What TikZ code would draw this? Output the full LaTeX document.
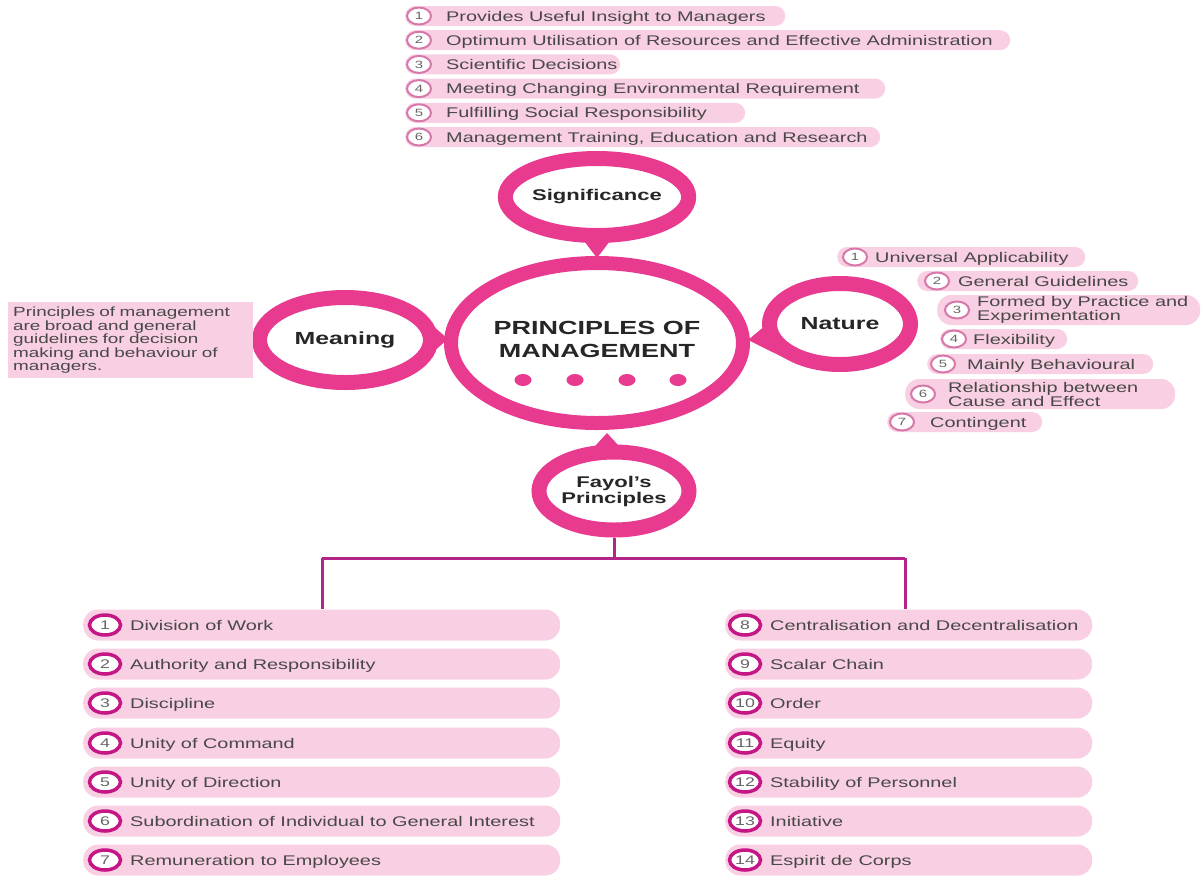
\documentclass[tikz,border=0pt]{standalone}
\usepackage{fontspec}
\setmainfont{Liberation Sans}[FakeStretch=1.42]
\usetikzlibrary{calc,shapes.geometric}

\definecolor{ringpink}{RGB}{232,58,143}
\definecolor{pillpink}{RGB}{249,207,227}
\definecolor{numring}{RGB}{214,120,170}
\definecolor{fayring}{RGB}{196,22,132}
\definecolor{branchcol}{RGB}{180,36,136}
\definecolor{txtgray}{RGB}{72,72,72}

\begin{document}
\begin{tikzpicture}[x=1pt, y=-1pt,
    bubble/.style={ellipse, draw=ringpink, line width=15pt, fill=white, inner sep=0pt, text=black!85},
    toppill/.style={rectangle, rounded corners=10pt, fill=pillpink, minimum height=20pt, anchor=west, inner sep=0pt},
    twopill/.style={rectangle, rounded corners=14pt, fill=pillpink, minimum height=30pt, anchor=west, inner sep=0pt},
    fayolpill/.style={rectangle, rounded corners=15pt, fill=pillpink, minimum height=31pt, anchor=west, inner sep=0pt},
    smallnum/.style={ellipse, draw=numring, line width=2pt, fill=white, minimum width=24pt, minimum height=17pt, inner sep=0pt, font=\fontsize{10.5}{10.5}\selectfont, text=black!60},
    fayolnum/.style={ellipse, draw=fayring, line width=3.5pt, fill=white, minimum width=31pt, minimum height=20pt, inner sep=0pt, font=\fontsize{12.5}{12.5}\selectfont, text=black!60},
    twotext/.style={anchor=west, inner sep=0pt, font=\fontsize{14}{14}\selectfont, text=txtgray, align=left},
    itemtext/.style={twotext, text height=10pt, text depth=0pt},
    dot/.style={ellipse, fill=ringpink, minimum width=17pt, minimum height=12pt, inner sep=0pt},
    branch/.style={draw=branchcol, line width=3pt}
]
    \useasboundingbox (0,0) rectangle (1204,876);

    % central bubble
    \node[bubble, line width=14pt, minimum width=292pt, minimum height=160pt] (main) at (597,343) {};
    \node[font=\bfseries\fontsize{19}{23}\selectfont, text=black!85, align=center] (title) at (597,339) {PRINCIPLES OF\\MANAGEMENT};
    \node[dot] (d1) at (523,380) {};
    \node[dot] (d2) at (575,380) {};
    \node[dot] (d3) at (627,380) {};
    \node[dot] (d4) at (678,380) {};

    % outer bubbles
    \node[bubble, minimum width=151pt, minimum height=77pt, font=\bfseries\fontsize{15.5}{16}\selectfont] (sig) at (597,197) {Significance};
    \node[bubble, minimum width=171pt, minimum height=85pt, font=\bfseries\fontsize{17.5}{18}\selectfont] (mean) at (345,340) {Meaning};
    \node[bubble, minimum width=141pt, minimum height=81pt, font=\bfseries\fontsize{17.5}{18}\selectfont] (nat) at (840,324) {Nature};
    \node[bubble, minimum width=150pt, minimum height=78pt, font=\bfseries\fontsize{15.5}{16}\selectfont, align=center] (fay) at (614,491) {Fayol’s\\Principles};

    % bubble tips
    \coordinate (sigtip) at (597,258);
    \coordinate (meantip) at (448,339);
    \coordinate (nattip) at (748,340);
    \coordinate (faytip) at (607,433);
    \fill[ringpink] ($(sig.south)+(-16,-6)$) -- (sigtip) -- ($(sig.south)+(16,-6)$) -- cycle;
    \fill[ringpink] ($(mean.east)+(-6,-15)$) -- (meantip) -- ($(mean.east)+(-6,13)$) -- cycle;
    \fill[ringpink] (nat.183) -- (nattip) -- (nat.215) -- cycle;
    \fill[ringpink] ($(fay.north)+(-23,6)$) -- (faytip) -- ($(fay.north)+(9,6)$) -- cycle;

    % meaning text
    \node[fill=pillpink, anchor=north west, minimum width=245pt, minimum height=76pt, text width=235pt, inner xsep=5pt, inner ysep=2pt, align=left, font=\fontsize{13.3}{13.5}\selectfont, text=txtgray] (mbox) at (8,302) {Principles of management\\are broad and general\\guidelines for decision\\making and behaviour of\\managers.};

    % significance list
    \node[toppill, minimum width=380pt] (s1) at (405,16) {};
    \node[smallnum] (s1n) at ($(s1.west)+(14,0)$) {1};
    \node[itemtext] (s1t) at ($(s1.west)+(41,0)$) {Provides Useful Insight to Managers};
    \node[toppill, minimum width=605pt] (s2) at (405,40.2) {};
    \node[smallnum] (s2n) at ($(s2.west)+(14,0)$) {2};
    \node[itemtext] (s2t) at ($(s2.west)+(41,0)$) {Optimum Utilisation of Resources and Effective Administration};
    \node[toppill, minimum width=215pt] (s3) at (405,64.4) {};
    \node[smallnum] (s3n) at ($(s3.west)+(14,0)$) {3};
    \node[itemtext] (s3t) at ($(s3.west)+(41,0)$) {Scientific Decisions};
    \node[toppill, minimum width=480pt] (s4) at (405,88.6) {};
    \node[smallnum] (s4n) at ($(s4.west)+(14,0)$) {4};
    \node[itemtext] (s4t) at ($(s4.west)+(41,0)$) {Meeting Changing Environmental Requirement};
    \node[toppill, minimum width=340pt] (s5) at (405,112.8) {};
    \node[smallnum] (s5n) at ($(s5.west)+(14,0)$) {5};
    \node[itemtext] (s5t) at ($(s5.west)+(41,0)$) {Fulfilling Social Responsibility};
    \node[toppill, minimum width=475pt] (s6) at (405,137) {};
    \node[smallnum] (s6n) at ($(s6.west)+(14,0)$) {6};
    \node[itemtext] (s6t) at ($(s6.west)+(41,0)$) {Management Training, Education and Research};

    % nature list
    \node[toppill, minimum width=248pt] (n1) at (837,257) {};
    \node[smallnum] (n1n) at ($(n1.west)+(18,0)$) {1};
    \node[itemtext] (n1t) at ($(n1.west)+(38,0)$) {Universal Applicability};
    \node[toppill, minimum width=221pt] (n2) at (917,281) {};
    \node[smallnum] (n2n) at ($(n2.west)+(20,0)$) {2};
    \node[itemtext] (n2t) at ($(n2.west)+(41,0)$) {General Guidelines};
    \node[twopill, minimum width=263pt] (n3) at (937,310) {};
    \node[smallnum] (n3n) at ($(n3.west)+(20,0)$) {3};
    \node[twotext] (n3t) at ($(n3.west)+(40,0)$) {Formed by Practice and\\Experimentation};
    \node[toppill, minimum width=127pt] (n4) at (940,339) {};
    \node[smallnum] (n4n) at ($(n4.west)+(14,0)$) {4};
    \node[itemtext] (n4t) at ($(n4.west)+(33,0)$) {Flexibility};
    \node[toppill, minimum width=226pt] (n5) at (927,364) {};
    \node[smallnum] (n5n) at ($(n5.west)+(16,0)$) {5};
    \node[itemtext] (n5t) at ($(n5.west)+(40,0)$) {Mainly Behavioural};
    \node[twopill, minimum width=270pt] (n6) at (905,394) {};
    \node[smallnum] (n6n) at ($(n6.west)+(18,0)$) {6};
    \node[twotext] (n6t) at ($(n6.west)+(43,0)$) {Relationship between\\Cause and Effect};
    \node[toppill, minimum width=155pt] (n7) at (887,422) {};
    \node[smallnum] (n7n) at ($(n7.west)+(15,0)$) {7};
    \node[itemtext] (n7t) at ($(n7.west)+(43,0)$) {Contingent};

    % fayol's principles, left column
    \node[fayolpill, minimum width=477pt] (f1) at (83,625) {};
    \node[fayolnum] (f1n) at ($(f1.west)+(22,0)$) {1};
    \node[itemtext] (f1t) at ($(f1.west)+(47,0)$) {Division of Work};
    \node[fayolpill, minimum width=477pt] (f2) at (83,664) {};
    \node[fayolnum] (f2n) at ($(f2.west)+(22,0)$) {2};
    \node[itemtext] (f2t) at ($(f2.west)+(47,0)$) {Authority and Responsibility};
    \node[fayolpill, minimum width=477pt] (f3) at (83,703) {};
    \node[fayolnum] (f3n) at ($(f3.west)+(22,0)$) {3};
    \node[itemtext] (f3t) at ($(f3.west)+(47,0)$) {Discipline};
    \node[fayolpill, minimum width=477pt] (f4) at (83,743) {};
    \node[fayolnum] (f4n) at ($(f4.west)+(22,0)$) {4};
    \node[itemtext] (f4t) at ($(f4.west)+(47,0)$) {Unity of Command};
    \node[fayolpill, minimum width=477pt] (f5) at (83,782) {};
    \node[fayolnum] (f5n) at ($(f5.west)+(22,0)$) {5};
    \node[itemtext] (f5t) at ($(f5.west)+(47,0)$) {Unity of Direction};
    \node[fayolpill, minimum width=477pt] (f6) at (83,821) {};
    \node[fayolnum] (f6n) at ($(f6.west)+(22,0)$) {6};
    \node[itemtext] (f6t) at ($(f6.west)+(47,0)$) {Subordination of Individual to General Interest};
    \node[fayolpill, minimum width=477pt] (f7) at (83,860) {};
    \node[fayolnum] (f7n) at ($(f7.west)+(22,0)$) {7};
    \node[itemtext] (f7t) at ($(f7.west)+(47,0)$) {Remuneration to Employees};

    % fayol's principles, right column
    \node[fayolpill, minimum width=367pt] (f8) at (725,625) {};
    \node[fayolnum] (f8n) at ($(f8.west)+(20,0)$) {8};
    \node[itemtext] (f8t) at ($(f8.west)+(45,0)$) {Centralisation and Decentralisation};
    \node[fayolpill, minimum width=367pt] (f9) at (725,664) {};
    \node[fayolnum] (f9n) at ($(f9.west)+(20,0)$) {9};
    \node[itemtext] (f9t) at ($(f9.west)+(45,0)$) {Scalar Chain};
    \node[fayolpill, minimum width=367pt] (f10) at (725,703) {};
    \node[fayolnum] (f10n) at ($(f10.west)+(20,0)$) {10};
    \node[itemtext] (f10t) at ($(f10.west)+(45,0)$) {Order};
    \node[fayolpill, minimum width=367pt] (f11) at (725,743) {};
    \node[fayolnum] (f11n) at ($(f11.west)+(20,0)$) {11};
    \node[itemtext] (f11t) at ($(f11.west)+(45,0)$) {Equity};
    \node[fayolpill, minimum width=367pt] (f12) at (725,782) {};
    \node[fayolnum] (f12n) at ($(f12.west)+(20,0)$) {12};
    \node[itemtext] (f12t) at ($(f12.west)+(45,0)$) {Stability of Personnel};
    \node[fayolpill, minimum width=367pt] (f13) at (725,821) {};
    \node[fayolnum] (f13n) at ($(f13.west)+(20,0)$) {13};
    \node[itemtext] (f13t) at ($(f13.west)+(45,0)$) {Initiative};
    \node[fayolpill, minimum width=367pt] (f14) at (725,860) {};
    \node[fayolnum] (f14n) at ($(f14.west)+(20,0)$) {14};
    \node[itemtext] (f14t) at ($(f14.west)+(45,0)$) {Espirit de Corps};

    % branches
    \coordinate (lbr) at (322,558);
    \coordinate (rbr) at (905,558);
    \draw[branch] (fay.south) -- (fay.south |- lbr);
    \draw[branch] (lbr) -- (rbr);
    \draw[branch] (lbr) -- (lbr |- f1.north);
    \draw[branch] (rbr) -- (rbr |- f8.north);

\end{tikzpicture}
\end{document}
